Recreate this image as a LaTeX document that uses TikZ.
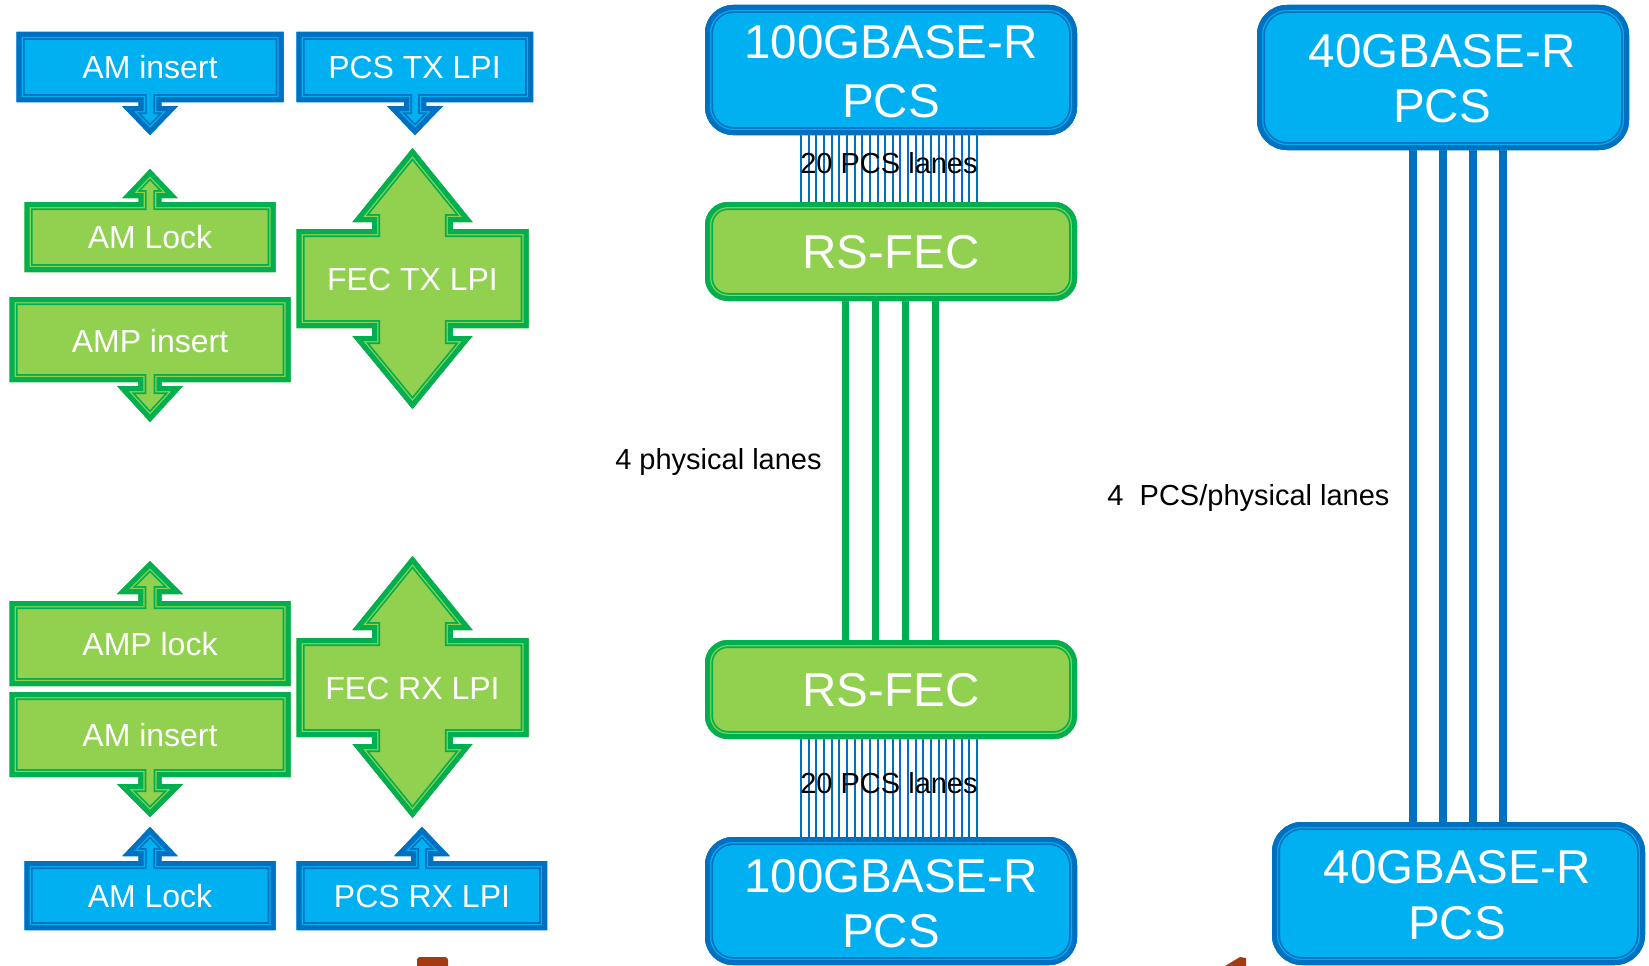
\documentclass[tikz,border=0pt]{standalone}
\usepackage{fontspec}
\setmainfont{Liberation Sans}
\usetikzlibrary{calc}
\definecolor{bdark}{HTML}{0070C0}
\definecolor{bfill}{HTML}{00B0F0}
\definecolor{gdark}{HTML}{00B050}
\definecolor{gfill}{HTML}{92D050}
\definecolor{rust}{HTML}{A33A12}
\newcommand\fancyshape[4][sharp corners]{%
  \fill[#3,#1] #4;
  \begin{scope}
    \clip[#1] #4;
    \draw[#2,line width=16pt,#1] #4;
    \draw[#3,line width=12.5pt,#1] #4;
    \draw[#2,line width=10pt,#1] #4;
  \end{scope}}
\tikzset{
  smalltxt/.style={text=white, font=\fontsize{32}{38}\selectfont, text height=22.9pt, text depth=0pt, inner sep=0pt},
  bigtxt/.style={text=white, font=\fontsize{47.5}{56}\selectfont, inner sep=0pt, anchor=base},
  lbl/.style={text=black, font=\fontsize{29}{34}\selectfont, inner sep=0pt, anchor=base},
  boxnode/.style={rectangle, inner sep=0pt, outer sep=0pt},
  pcslane/.style={draw=bdark, line width=2pt},
  glane/.style={draw=gdark, line width=7pt},
  blane/.style={draw=bdark, line width=7.5pt},
}
\begin{document}
\begin{tikzpicture}[x=1pt,y=-1pt]
\useasboundingbox (0,0) rectangle (1649,966);

% ---- big boxes (anchors) ----
\node[boxnode, minimum width=372pt, minimum height=130pt] (pcsA) at (891,70) {};
\node[boxnode, minimum width=372pt, minimum height=99pt] (fecA) at (891,251.5) {};
\node[boxnode, minimum width=372pt, minimum height=99pt] (fecB) at (891,689.5) {};
\node[boxnode, minimum width=372pt, minimum height=128pt] (pcsB) at (891,901) {};
\node[boxnode, minimum width=372pt, minimum height=145pt] (pcsC) at (1443,77.5) {};
\node[boxnode, minimum width=373pt, minimum height=143pt] (pcsD) at (1458.5,893.5) {};

% ---- lanes ----
\foreach \i in {0,...,23} {
  \draw[pcslane] ($(pcsA.south)+(-90+\i*7.652,0)$) -- ($(fecA.north)+(-90+\i*7.652,0)$);
  \draw[pcslane] ($(fecB.south)+(-90+\i*7.652,0)$) -- ($(pcsB.north)+(-90+\i*7.652,0)$);
}
\foreach \dx in {-45.5,-15.5,14.5,44.5}
  \draw[glane] ($(fecA.south)+(\dx,0)$) -- ($(fecB.north)+(\dx,0)$);
\foreach \dx in {-30,0,30,60}
  \draw[blane] ($(pcsC.south)+(\dx,0)$) coordinate (lt) -- (lt |- pcsD.north);

% ---- big box shapes ----
\fancyshape[rounded corners=28pt]{bdark}{bfill}{(pcsA.north west) rectangle (pcsA.south east)}
\fancyshape[rounded corners=23pt]{gdark}{gfill}{(fecA.north west) rectangle (fecA.south east)}
\fancyshape[rounded corners=23pt]{gdark}{gfill}{(fecB.north west) rectangle (fecB.south east)}
\fancyshape[rounded corners=28pt]{bdark}{bfill}{(pcsB.north west) rectangle (pcsB.south east)}
\fancyshape[rounded corners=30pt]{bdark}{bfill}{(pcsC.north west) rectangle (pcsC.south east)}
\fancyshape[rounded corners=30pt]{bdark}{bfill}{(pcsD.north west) rectangle (pcsD.south east)}

\node[bigtxt] (tA1) at (891,59) {100GBASE-R};
\node[bigtxt] (tA2) at (891,117) {PCS};
\node[bigtxt] (tF1) at (891,268.5) {RS-FEC};
\node[bigtxt] (tF2) at (891,706.5) {RS-FEC};
\node[bigtxt] (tB1) at (891,892) {100GBASE-R};
\node[bigtxt] (tB2) at (891,947) {PCS};
\node[bigtxt] (tC1) at (1442,67) {40GBASE-R};
\node[bigtxt] (tC2) at (1442,122) {PCS};
\node[bigtxt] (tD1) at (1457,883) {40GBASE-R};
\node[bigtxt] (tD2) at (1457,939) {PCS};

% ---- lane labels ----
\node[lbl] (l20a) at (889,173) {20 PCS lanes};
\node[lbl] (l20b) at (889,793) {20 PCS lanes};
\node[lbl] (l4p) at (718.5,469) {4 physical lanes};
\node[lbl] (l4pcs) at (1248.5,505) {4~~PCS/physical lanes};

% ---- small arrow boxes ----
\fancyshape{bdark}{bfill}{(16.5,32) -- (283.5,32) -- (283.5,102) -- (161.4,102) -- (161.4,106) -- (178,106) -- (150,135) -- (122,106) -- (138.6,106) -- (138.6,102) -- (16.5,102) -- cycle}
\fancyshape{bdark}{bfill}{(296.5,32) -- (533,32) -- (533,102) -- (426,102) -- (426,106) -- (443,106) -- (415,135) -- (387,106) -- (404,106) -- (404,102) -- (296.5,102) -- cycle}
\fancyshape{gdark}{gfill}{(24.5,202) -- (138.6,202) -- (138.6,198) -- (122.5,198) -- (150,169) -- (177.5,198) -- (161.4,198) -- (161.4,202) -- (275.5,202) -- (275.5,272) -- (24.5,272) -- cycle}
\fancyshape{gdark}{gfill}{(296.5,229) -- (372.2,229) -- (372.2,222) -- (352.5,222) -- (412.5,148) -- (472.5,222) -- (452.8,222) -- (452.8,229) -- (528.5,229) -- (528.5,328) -- (452.8,328) -- (452.8,336) -- (472.5,336) -- (412.5,409) -- (352.5,336) -- (372.2,336) -- (372.2,328) -- (296.5,328) -- cycle}
\fancyshape{gdark}{gfill}{(9.5,297) -- (290.5,297) -- (290.5,382) -- (161.7,382) -- (161.7,386) -- (183,386) -- (150,422) -- (117,386) -- (138.3,386) -- (138.3,382) -- (9.5,382) -- cycle}
\fancyshape{gdark}{gfill}{(9.5,601) -- (138.3,601) -- (138.3,594) -- (117,594) -- (150,561) -- (183,594) -- (161.7,594) -- (161.7,601) -- (290.5,601) -- (290.5,686) -- (9.5,686) -- cycle}
\fancyshape{gdark}{gfill}{(9.5,692) -- (290.5,692) -- (290.5,777) -- (161.7,777) -- (161.7,784) -- (183,784) -- (150,817) -- (117,784) -- (138.3,784) -- (138.3,777) -- (9.5,777) -- cycle}
\fancyshape{gdark}{gfill}{(296.5,638) -- (372.2,638) -- (372.2,630) -- (352.5,630) -- (412.5,556) -- (472.5,630) -- (452.8,630) -- (452.8,638) -- (528.5,638) -- (528.5,737) -- (452.8,737) -- (452.8,744) -- (472.5,744) -- (412.5,818) -- (352.5,744) -- (372.2,744) -- (372.2,737) -- (296.5,737) -- cycle}
\fancyshape{bdark}{bfill}{(24.5,861) -- (138.6,861) -- (138.6,856) -- (122.5,856) -- (150,827) -- (177.5,856) -- (161.4,856) -- (161.4,861) -- (275.5,861) -- (275.5,930) -- (24.5,930) -- cycle}
\fancyshape{bdark}{bfill}{(296.5,861) -- (411,861) -- (411,856) -- (394.3,856) -- (422,827) -- (449.7,856) -- (433,856) -- (433,861) -- (547,861) -- (547,930) -- (296.5,930) -- cycle}

\node[smalltxt] (s1) at (150,67.5) {AM insert};
\node[smalltxt] (s2) at (414.5,67.5) {PCS TX LPI};
\node[smalltxt] (s3) at (150,237.5) {AM Lock};
\node[smalltxt] (s4) at (412.5,279) {FEC TX LPI};
\node[smalltxt] (s5) at (150,341) {AMP insert};
\node[smalltxt] (s6) at (150,644) {AMP lock};
\node[smalltxt] (s7) at (150,735) {AM insert};
\node[smalltxt] (s8) at (412.5,688) {FEC RX LPI};
\node[smalltxt] (s9) at (150,896) {AM Lock};
\node[smalltxt] (s10) at (422,896) {PCS RX LPI};

% ---- cut-off shapes at the bottom edge ----
\fill[rust, rounded corners=3pt] (417,957) rectangle (448,975);
\fill[rust] (1225,966) -- (1240,957) -- (1246,958) -- (1246,966) -- cycle;
\end{tikzpicture}
\end{document}
